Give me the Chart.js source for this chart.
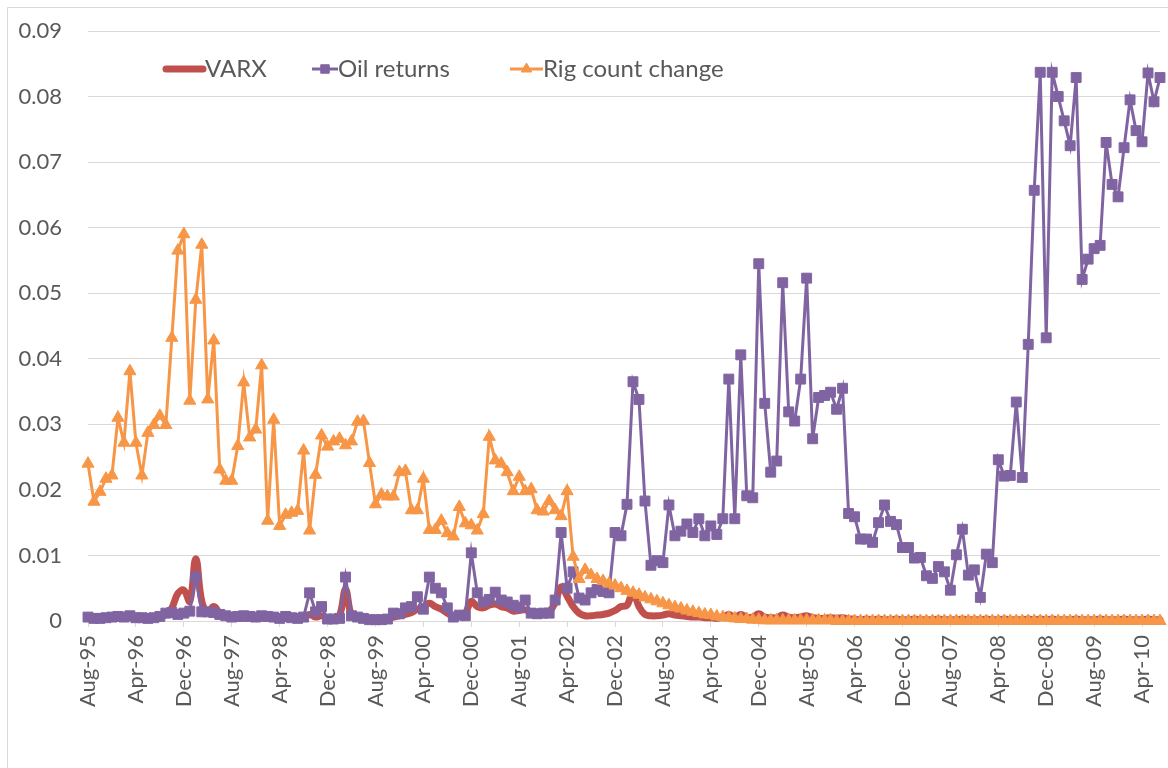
<!DOCTYPE html>
<html>
<head>
<meta charset="utf-8">
<title>VARX, oil returns and rig count change</title>
<script src="https://cdn.jsdelivr.net/npm/chart.js@4.4.1/dist/chart.umd.min.js"></script>
<style>
    html, body { margin: 0; padding: 0; background: #ffffff; }
    #chartBox { width: 1168px; height: 768px; }
</style>
</head>
<body>
<div id="chartBox"><canvas id="varxChart" width="1168" height="768"></canvas></div>
<script>
// Monthly categories, Aug-95 .. Jul-10 (180 months)
const monthNames = ['Jan', 'Feb', 'Mar', 'Apr', 'May', 'Jun', 'Jul', 'Aug', 'Sep', 'Oct', 'Nov', 'Dec'];
const firstMonth = 7;   // Aug
const firstYear = 1995;
const monthCount = 180;
const labelEvery = 8;   // Aug-95, Apr-96, Dec-96 ...

const categories = [];
for (let k = 0; k < monthCount; k++) {
    const m = firstMonth + k;
    const yr = (firstYear + Math.floor(m / 12)) % 100;
    categories.push(monthNames[m % 12] + '-' + String(yr).padStart(2, '0'));
}

const yTicks = [0, 0.01, 0.02, 0.03, 0.04, 0.05, 0.06, 0.07, 0.08, 0.09];

// VARX (red, smoothed)
const varx = [
    0.0004, 0.0003, 0.0003, 0.0004, 0.0004, 0.0005, 0.0004, 0.0005, 0.0004, 0.0004,
    0.0003, 0.0004, 0.0006, 0.0010, 0.0020, 0.0042, 0.0047, 0.0030, 0.0095, 0.0030,
    0.0014, 0.0022, 0.0012, 0.0006, 0.0005, 0.0004, 0.0004, 0.0005, 0.0004, 0.0004,
    0.0005, 0.0004, 0.0003, 0.0004, 0.0004, 0.0003, 0.0004, 0.0010, 0.0006, 0.0008,
    0.0004, 0.0004, 0.0008, 0.0048, 0.0008, 0.0004, 0.0003, 0.0003, 0.0003, 0.0003,
    0.0003, 0.0006, 0.0008, 0.0010, 0.0013, 0.0018, 0.0022, 0.0027, 0.0022, 0.0018,
    0.0012, 0.0008, 0.0009, 0.0012, 0.0030, 0.0022, 0.0020, 0.0024, 0.0026, 0.0022,
    0.0020, 0.0015, 0.0016, 0.0017, 0.0013, 0.0012, 0.0012, 0.0014, 0.0028, 0.0052,
    0.0038, 0.0022, 0.0012, 0.0008, 0.0008, 0.0009, 0.0010, 0.0012, 0.0016, 0.0022,
    0.0024, 0.0044, 0.0022, 0.0010, 0.0008, 0.0008, 0.0009, 0.0011, 0.0009, 0.0008,
    0.0007, 0.0006, 0.0006, 0.0005, 0.0005, 0.0004, 0.0006, 0.0010, 0.0006, 0.0010,
    0.0006, 0.0006, 0.0011, 0.0006, 0.0005, 0.0005, 0.0009, 0.0006, 0.0005, 0.0006,
    0.0008, 0.0005, 0.0004, 0.0004, 0.0005, 0.0004, 0.0005, 0.0003, 0.0003, 0.0002,
    0.0003, 0.0002, 0.0003, 0.0002, 0.0002, 0.0003, 0.0002, 0.0002, 0.0003, 0.0002,
    0.0002, 0.0002, 0.0003, 0.0002, 0.0002, 0.0002, 0.0003, 0.0002, 0.0002, 0.0002,
    0.0003, 0.0002, 0.0002, 0.0003, 0.0002, 0.0002, 0.0002, 0.0003, 0.0002, 0.0003,
    0.0002, 0.0003, 0.0002, 0.0002, 0.0002, 0.0003, 0.0002, 0.0002, 0.0002, 0.0003,
    0.0002, 0.0002, 0.0002, 0.0003, 0.0002, 0.0002, 0.0002, 0.0003, 0.0002, 0.0002
];

// Oil returns (purple, squares)
const oilReturns = [
    0.0006, 0.0004, 0.0004, 0.0005, 0.0006, 0.0007, 0.0006, 0.0008, 0.0005, 0.0005,
    0.0004, 0.0005, 0.0007, 0.0012, 0.0013, 0.0010, 0.0012, 0.0015, 0.0067, 0.0014,
    0.0014, 0.0013, 0.0010, 0.0008, 0.0006, 0.0007, 0.0008, 0.0007, 0.0006, 0.0008,
    0.0007, 0.0006, 0.0004, 0.0007, 0.0005, 0.0004, 0.0006, 0.0043, 0.0014, 0.0022,
    0.0003, 0.0003, 0.0004, 0.0067, 0.0008, 0.0006, 0.0004, 0.0002, 0.0002, 0.0002,
    0.0003, 0.0012, 0.0011, 0.0020, 0.0022, 0.0037, 0.0018, 0.0067, 0.0050, 0.0043,
    0.0020, 0.0006, 0.0009, 0.0008, 0.0104, 0.0043, 0.0029, 0.0033, 0.0044, 0.0032,
    0.0029, 0.0024, 0.0021, 0.0032, 0.0012, 0.0011, 0.0012, 0.0012, 0.0032, 0.0135,
    0.0050, 0.0075, 0.0035, 0.0032, 0.0043, 0.0048, 0.0045, 0.0043, 0.0135, 0.0130,
    0.0178, 0.0365, 0.0338, 0.0183, 0.0085, 0.0092, 0.0089, 0.0177, 0.0130, 0.0137,
    0.0148, 0.0135, 0.0156, 0.0130, 0.0145, 0.0132, 0.0156, 0.0369, 0.0156, 0.0406,
    0.0191, 0.0188, 0.0545, 0.0332, 0.0227, 0.0244, 0.0516, 0.0319, 0.0305, 0.0369,
    0.0523, 0.0278, 0.0341, 0.0344, 0.0349, 0.0323, 0.0355, 0.0164, 0.0159, 0.0125,
    0.0125, 0.0120, 0.0150, 0.0177, 0.0152, 0.0147, 0.0112, 0.0112, 0.0096, 0.0097,
    0.0069, 0.0065, 0.0083, 0.0075, 0.0047, 0.0101, 0.0140, 0.0070, 0.0078, 0.0036,
    0.0102, 0.0089, 0.0246, 0.0221, 0.0222, 0.0334, 0.0219, 0.0422, 0.0657, 0.0837,
    0.0432, 0.0837, 0.0800, 0.0763, 0.0725, 0.0829, 0.0521, 0.0552, 0.0568, 0.0573,
    0.0730, 0.0666, 0.0647, 0.0722, 0.0795, 0.0748, 0.0731, 0.0836, 0.0792, 0.0829
];

// Rig count change (orange, triangles)
const rigCount = [
    0.0240, 0.0182, 0.0197, 0.0217, 0.0222, 0.0310, 0.0272, 0.0381, 0.0272, 0.0222,
    0.0287, 0.0299, 0.0313, 0.0299, 0.0432, 0.0565, 0.0590, 0.0336, 0.0490, 0.0574,
    0.0338, 0.0428, 0.0231, 0.0214, 0.0214, 0.0267, 0.0364, 0.0280, 0.0292, 0.0390,
    0.0153, 0.0307, 0.0145, 0.0162, 0.0165, 0.0168, 0.0260, 0.0138, 0.0223, 0.0283,
    0.0266, 0.0274, 0.0278, 0.0268, 0.0274, 0.0304, 0.0305, 0.0241, 0.0178, 0.0193,
    0.0190, 0.0190, 0.0227, 0.0229, 0.0169, 0.0169, 0.0217, 0.0139, 0.0139, 0.0153,
    0.0134, 0.0129, 0.0174, 0.0149, 0.0146, 0.0138, 0.0163, 0.0281, 0.0245, 0.0240,
    0.0227, 0.0198, 0.0220, 0.0198, 0.0201, 0.0169, 0.0167, 0.0183, 0.0169, 0.0160,
    0.0198, 0.0098, 0.0064, 0.0078, 0.0070, 0.0064, 0.0061, 0.0057, 0.0054, 0.0050,
    0.0046, 0.0043, 0.0040, 0.0036, 0.0033, 0.0030, 0.0027, 0.0024, 0.0021, 0.0019,
    0.0016, 0.0014, 0.0012, 0.0010, 0.0009, 0.0007, 0.0006, 0.0005, 0.0004, 0.0003,
    0.0003, 0.0002, 0.0002, 0.0001, 0.0001, 0.0001, 0.0001, 0.0001, 0.0001, 0.0001,
    0.0001, 0.0001, 0.0001, 0.0001, 0.0001, 0, 0, 0, 0, 0,
    0, 0, 0, 0, 0, 0, 0, 0, 0, 0,
    0, 0, 0, 0, 0, 0, 0, 0, 0, 0,
    0, 0, 0, 0, 0, 0, 0, 0, 0, 0,
    0, 0, 0, 0, 0, 0, 0, 0, 0, 0,
    0, 0, 0, 0, 0, 0, 0, 0, 0, 0
];

const textColor = '#595959';
const gridColor = '#d9d9d9';
const fontFamily = 'Lato, "Open Sans", sans-serif';

// Legend sits inside the plot area, so it is drawn by hand
const legendRow = { y: 69, fontSize: 24, items: [
    { dataset: 0, x0: 166, x1: 203, textX: 205 },
    { dataset: 1, x0: 312, x1: 338, textX: 338 },
    { dataset: 2, x0: 510, x1: 543, textX: 543 }
] };

const chartFrame = {
    id: 'chartFrame',
    beforeDraw(chart) {
        const ctx = chart.ctx;
        ctx.save();
        ctx.fillStyle = '#ffffff';
        ctx.fillRect(0, 0, chart.width, chart.height);
        ctx.strokeStyle = gridColor;
        ctx.lineWidth = 1;
        ctx.beginPath();
        ctx.moveTo(7.5, chart.height);
        ctx.lineTo(7.5, 7.5);
        ctx.lineTo(chart.width, 7.5);
        ctx.stroke();
        ctx.restore();
    },
    afterDraw(chart) {
        const ctx = chart.ctx;
        const y = legendRow.y;
        ctx.save();
        legendRow.items.forEach(item => {
            const ds = chart.data.datasets[item.dataset];
            ctx.strokeStyle = ds.borderColor;
            ctx.fillStyle = ds.borderColor;
            ctx.lineWidth = ds.pointStyle ? ds.borderWidth : 7;
            ctx.lineCap = ds.pointStyle ? 'butt' : 'round';
            ctx.beginPath();
            ctx.moveTo(item.x0, y);
            ctx.lineTo(item.x1, y);
            ctx.stroke();
            if (ds.pointStyle) {
                ctx.lineWidth = 1;
                Chart.helpers.drawPoint(ctx, {
                    pointStyle: ds.pointStyle,
                    radius: ds.pointRadius - 1,
                    rotation: 0,
                    borderWidth: 1
                }, (item.x0 + item.x1) / 2, y);
            }
            ctx.fillStyle = textColor;
            ctx.font = legendRow.fontSize + 'px ' + fontFamily;
            ctx.textBaseline = 'middle';
            ctx.textAlign = 'left';
            ctx.fillText(ds.label, item.textX, y);
        });
        ctx.restore();
    }
};

function buildChart() {
    Chart.defaults.font.family = fontFamily;
    Chart.defaults.font.size = 22;
    Chart.defaults.color = textColor;

    new Chart(document.getElementById('varxChart'), {
        type: 'line',
        data: {
            labels: categories,
            datasets: [{
                label: 'VARX',
                data: varx,
                borderColor: '#C0504D',
                backgroundColor: '#C0504D',
                borderWidth: 7,
                borderCapStyle: 'round',
                borderJoinStyle: 'round',
                pointRadius: 0,
                tension: 0.4,
                order: 3,
                clip: false
            }, {
                label: 'Oil returns',
                data: oilReturns,
                borderColor: '#8064A2',
                backgroundColor: '#8064A2',
                borderWidth: 3,
                pointStyle: 'rect',
                pointRadius: 7,
                pointBorderWidth: 1,
                pointBackgroundColor: '#8064A2',
                pointBorderColor: '#8064A2',
                tension: 0,
                order: 2,
                clip: false
            }, {
                label: 'Rig count change',
                data: rigCount,
                borderColor: '#F79646',
                backgroundColor: '#F79646',
                borderWidth: 3,
                pointStyle: 'triangle',
                pointRadius: 7,
                pointBorderWidth: 1,
                pointBackgroundColor: '#F79646',
                pointBorderColor: '#F79646',
                tension: 0,
                order: 1,
                clip: false
            }]
        },
        options: {
            responsive: false,
            animation: false,
            events: [],
            layout: {
                padding: { left: 8, right: 8, top: 31, bottom: 0 }
            },
            scales: {
                x: {
                    afterFit(scale) {
                        scale.height = 147;
                        scale.paddingLeft = 0;
                        scale.paddingRight = 0;
                    },
                    border: { display: true, color: gridColor, width: 1 },
                    grid: {
                        drawOnChartArea: false,
                        drawTicks: true,
                        tickLength: 6,
                        color: (ctx) => ctx.index % labelEvery === 0 ? gridColor : 'rgba(0,0,0,0)'
                    },
                    ticks: {
                        autoSkip: false,
                        maxRotation: 90,
                        minRotation: 90,
                        padding: 8,
                        color: textColor,
                        font: { size: 22 },
                        callback(value, index) {
                            return index % labelEvery === 0 ? this.getLabelForValue(value) : '';
                        }
                    }
                },
                y: {
                    min: yTicks[0],
                    max: yTicks[yTicks.length - 1],
                    afterFit(scale) {
                        scale.width = 80;
                        scale.paddingTop = 0;
                        scale.paddingBottom = 0;
                    },
                    afterBuildTicks(scale) {
                        scale.ticks = yTicks.map(v => ({ value: v }));
                    },
                    border: { display: false },
                    grid: { color: gridColor, lineWidth: 1, drawTicks: false },
                    ticks: {
                        padding: 26,
                        color: textColor,
                        font: { size: 22 },
                        callback: (v) => v === 0 ? '0' : v.toFixed(2)
                    }
                }
            },
            plugins: {
                legend: { display: false },
                tooltip: { enabled: false }
            }
        },
        plugins: [chartFrame]
    });
}

if (document.fonts && document.fonts.load) {
    document.fonts.load('22px Lato').then(buildChart, buildChart);
} else {
    buildChart();
}
</script>
</body>
</html>
